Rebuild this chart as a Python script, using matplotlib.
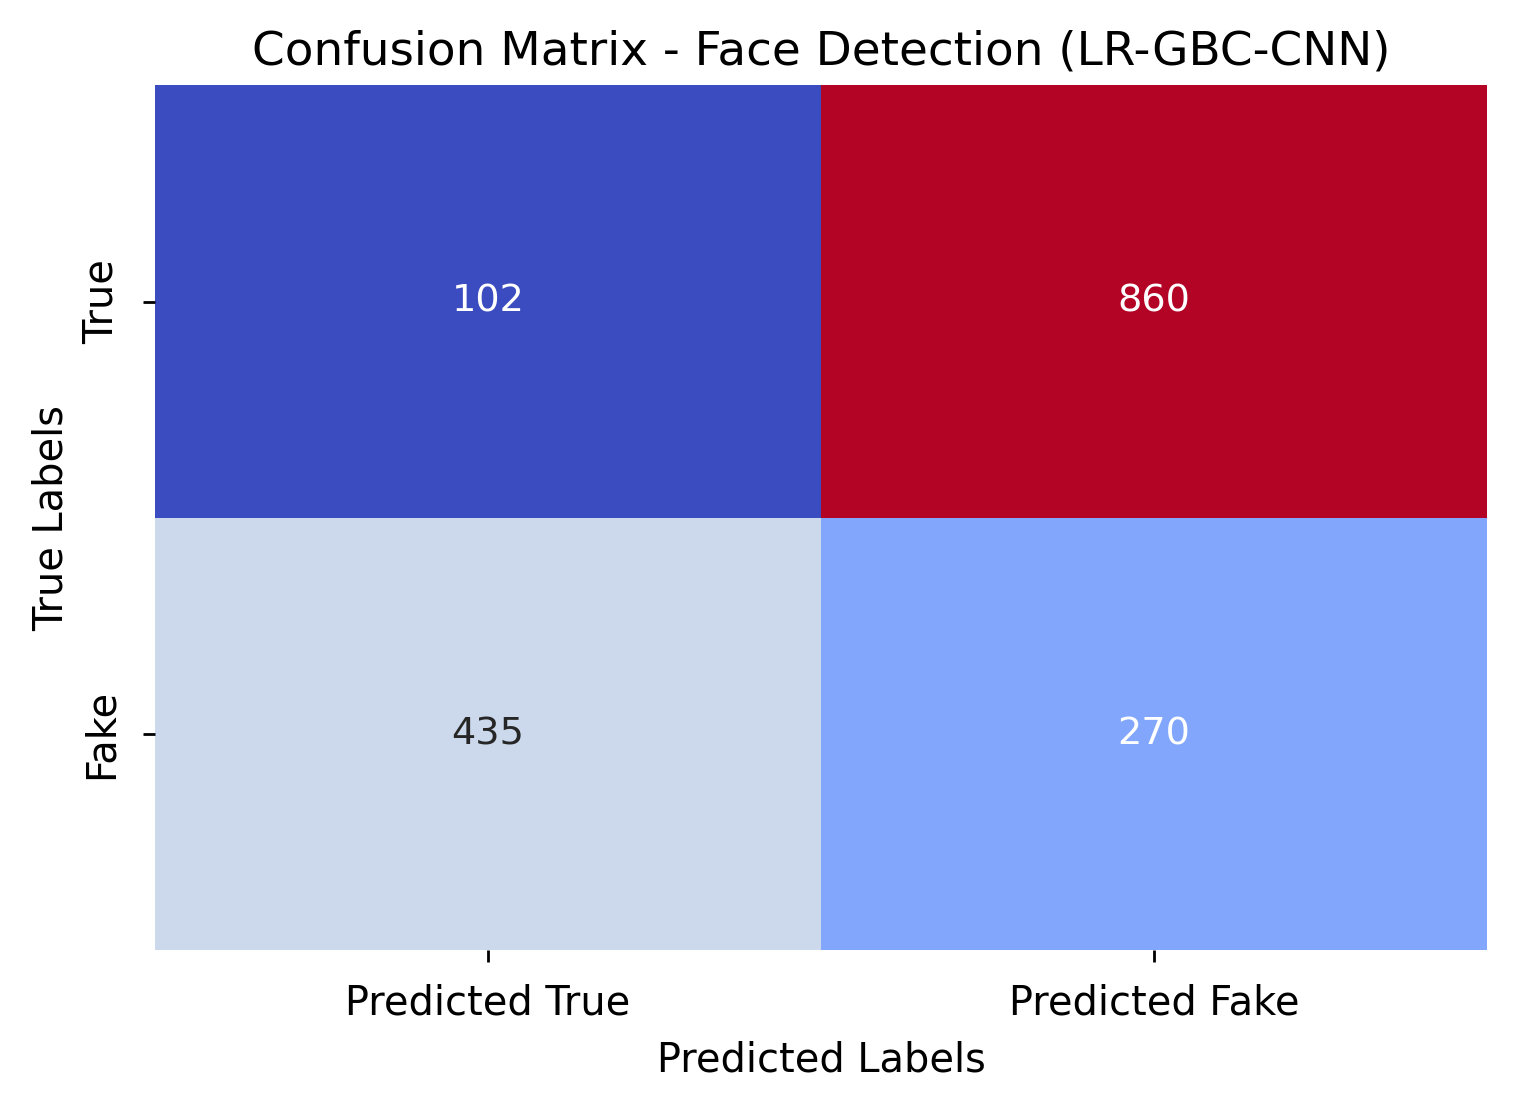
import matplotlib
matplotlib.use("Agg")
import matplotlib.pyplot as plt
import seaborn as sns
import numpy as np

# confusion matrix values
row_labels = ['True', 'Fake']
col_labels = ['Predicted True', 'Predicted Fake']
cm_values = np.array([[102, 860],
                      [435, 270]])

fig = plt.figure(figsize=(6.076, 4.384), dpi=250)
ax = fig.add_axes([0.102, 0.133, 0.877, 0.789])

sns.heatmap(cm_values, annot=True, fmt='d', cmap='coolwarm', cbar=False,
            xticklabels=col_labels, yticklabels=row_labels, ax=ax,
            annot_kws={'fontsize': 11})

ax.set_yticklabels(row_labels, rotation=90, va='center', fontsize=11.5)
ax.set_xticklabels(col_labels, rotation=0, fontsize=11.5)
ax.tick_params(axis='both', pad=6)
ax.set_xlabel('Predicted Labels', fontsize=11.5, labelpad=5)
ax.set_ylabel('True Labels', fontsize=11.5, labelpad=3)
ax.set_title('Confusion Matrix - Face Detection (LR-GBC-CNN)', fontsize=13.5)

fig.savefig('out.png', dpi=250)
